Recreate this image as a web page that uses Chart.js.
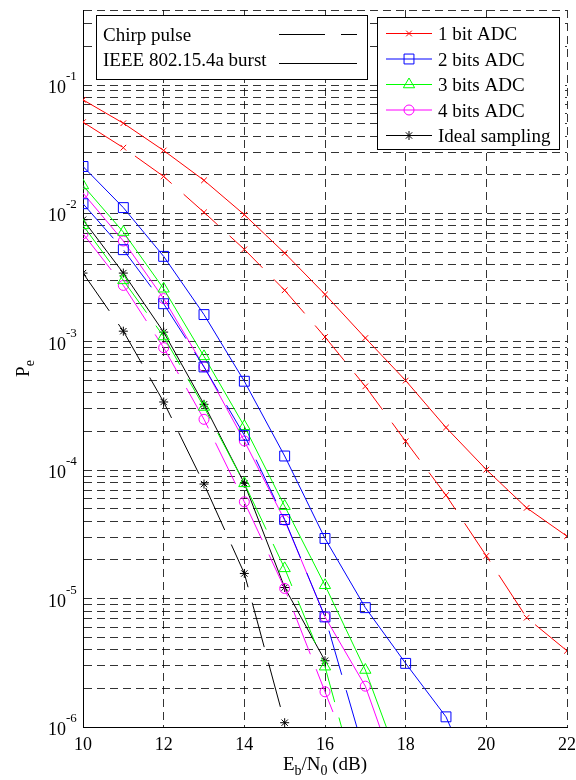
<!DOCTYPE html>
<html>
<head>
<meta charset="utf-8">
<script src="https://cdn.jsdelivr.net/npm/chart.js@4.4.1/dist/chart.umd.min.js"></script>
<style>
    html, body { margin: 0; padding: 0; background: #fff; }
    #chart { display: block; }
</style>
</head>
<body>
<canvas id="chart" width="576" height="780"></canvas>
<script>
const ebn0 = [10, 11, 12, 13, 14, 15, 16, 17, 18, 19, 20, 21, 22];
const xTicks = [10, 12, 14, 16, 18, 20, 22];
const yDecadeExps = [-6, -5, -4, -3, -2, -1];
const yMinorSteps = [1, 2, 3, 4, 5, 6, 7, 8, 9];
const yMin = 1e-6;
const yMax = 0.384;

// IEEE 802.15.4a burst = solid, chirp pulse = dashed
const bit1Burst  = [0.0767, 0.0504, 0.0309, 0.0181, 0.00977, 0.00491, 0.00234, 0.00107, 0.000499, 0.000215, 0.000101, 0.0000509, 0.0000306];
const bit1Chirp  = [0.0514, 0.0325, 0.0194, 0.0102, 0.00525, 0.00252, 0.00109, 0.00045, 0.000168, 0.0000639, 0.0000215, 0.0000071, 0.00000392];
const bit2Burst  = [0.0232, 0.0111, 0.00463, 0.00163, 0.000493, 0.000129, 0.0000294, 0.0000085, 0.00000313, 0.0000012, 2.3e-7];
const bit2Chirp  = [0.0119, 0.00522, 0.00198, 0.000637, 0.000187, 0.0000413, 0.0000072, 5.9e-7];
const bit3Burst  = [0.0165, 0.00716, 0.00259, 0.00077, 0.00022, 0.0000525, 0.0000127, 0.00000278, 3.9e-7];
const bit3Chirp  = [0.00807, 0.00301, 0.0011, 0.000311, 0.000079, 0.0000172, 0.00000295, 2.1e-7];
const bit4Burst  = [0.0144, 0.0061, 0.00217, 0.00064, 0.000169, 0.0000408, 0.0000072, 0.00000208, 2.7e-7];
const bit4Chirp  = [0.00695, 0.00275, 0.0009, 0.000249, 0.0000567, 0.000012, 0.00000188, 3e-7];
const idealBurst = [0.00893, 0.00343, 0.00119, 0.000326, 0.000079, 0.0000122, 0.00000328];
const idealChirp = [0.00343, 0.00121, 0.00034, 0.000078, 0.0000157, 0.00000108];

const SERIES = [
    { label: '1 bit ADC',      color: '#ff0000', style: 'crossRot', radius: 4,   burst: bit1Burst,  chirp: bit1Chirp },
    { label: '2 bits ADC',     color: '#0000ff', style: 'rect',     radius: 7,   burst: bit2Burst,  chirp: bit2Chirp },
    { label: '3 bits ADC',     color: '#00ff00', style: 'triangle', radius: 6.5, burst: bit3Burst,  chirp: bit3Chirp },
    { label: '4 bits ADC',     color: '#ff00ff', style: 'circle',   radius: 5,   burst: bit4Burst,  chirp: bit4Chirp },
    { label: 'Ideal sampling', color: '#000000', style: 'star',     radius: 4.5, burst: idealBurst, chirp: idealChirp },
];

const CHIRP_DASH = [46, 16];
const SERIF = '"Liberation Serif", "Times New Roman", serif';

function toPoints(values) {
    return values.map((y, i) => ({ x: ebn0[i], y }));
}

function makeDataset(s, values, dashed) {
    return {
        label: s.label + (dashed ? ' (chirp)' : ''),
        data: toPoints(values),
        borderColor: s.color,
        backgroundColor: 'rgba(0,0,0,0)',
        borderWidth: 1,
        borderDash: dashed ? CHIRP_DASH : [],
        pointStyle: s.style,
        pointRadius: s.radius,
        pointBorderWidth: 1,
        pointBorderColor: s.color,
        pointBackgroundColor: 'rgba(0,0,0,0)',
        tension: 0,
        fill: false,
    };
}

const datasets = [];
SERIES.forEach(s => {
    datasets.push(makeDataset(s, s.burst, false));
    datasets.push(makeDataset(s, s.chirp, true));
});

function drawSubText(ctx, parts, x, y, align) {
    // parts: [text, size, dy]
    let total = 0;
    parts.forEach(p => {
        ctx.font = `${p[1]}px ${SERIF}`;
        total += ctx.measureText(p[0]).width;
    });
    let cx = align === 'center' ? x - total / 2 : x;
    parts.forEach(p => {
        ctx.font = `${p[1]}px ${SERIF}`;
        ctx.fillText(p[0], cx, y + p[2]);
        cx += ctx.measureText(p[0]).width;
    });
}

const decorations = {
    id: 'decorations',
    afterDraw(chart) {
        const { ctx, chartArea, scales } = chart;
        ctx.save();
        ctx.fillStyle = '#000';
        ctx.textBaseline = 'alphabetic';

        // y tick labels 10^n
        yDecadeExps.forEach(e => {
            const y = scales.y.getPixelForValue(Math.pow(10, e));
            const xr = chartArea.left - 17;
            ctx.font = `18px ${SERIF}`;
            ctx.textAlign = 'right';
            ctx.fillText('10', xr, y + 8);
            ctx.font = `13px ${SERIF}`;
            ctx.textAlign = 'left';
            ctx.fillText(String(e), xr, y - 5);
        });

        // x tick labels
        ctx.font = `18px ${SERIF}`;
        ctx.textAlign = 'center';
        xTicks.forEach(v => {
            ctx.fillText(String(v), scales.x.getPixelForValue(v), chartArea.bottom + 23);
        });

        // axis titles
        ctx.textAlign = 'left';
        const xc = (chartArea.left + chartArea.right) / 2;
        drawSubText(ctx, [['E', 19, 0], ['b', 14, 5], ['/N', 19, 0], ['0', 14, 5], [' (dB)', 19, 0]], xc, chartArea.bottom + 43, 'center');

        ctx.save();
        ctx.translate(29, (chartArea.top + chartArea.bottom) / 2);
        ctx.rotate(-Math.PI / 2);
        drawSubText(ctx, [['P', 19, 0], ['e', 14, 5]], 0, 0, 'center');
        ctx.restore();

        // left legend: pulse shapes
        ctx.lineWidth = 1;
        ctx.fillStyle = '#fff';
        ctx.fillRect(96.5, 15.5, 271, 64);
        ctx.strokeStyle = '#000';
        ctx.strokeRect(96.5, 15.5, 271, 64);
        ctx.fillStyle = '#000';
        ctx.font = `19px ${SERIF}`;
        ctx.fillText('Chirp pulse', 103, 41);
        ctx.fillText('IEEE 802.15.4a burst', 103, 66);
        ctx.beginPath();
        ctx.setLineDash(CHIRP_DASH);
        ctx.moveTo(279, 34.5);
        ctx.lineTo(357, 34.5);
        ctx.stroke();
        ctx.setLineDash([]);
        ctx.beginPath();
        ctx.moveTo(279, 63.5);
        ctx.lineTo(357, 63.5);
        ctx.stroke();

        // right legend: ADC resolution
        ctx.fillStyle = '#fff';
        ctx.fillRect(377.5, 17.5, 182, 132);
        ctx.strokeRect(377.5, 17.5, 182, 132);
        SERIES.forEach((s, i) => {
            const y = 33 + i * 25.5;
            ctx.strokeStyle = s.color;
            ctx.lineWidth = 1;
            ctx.beginPath();
            ctx.moveTo(386, y + 0.5);
            ctx.lineTo(432, y + 0.5);
            ctx.stroke();
            ctx.fillStyle = 'rgba(0,0,0,0)';
            Chart.helpers.drawPoint(ctx, { pointStyle: s.style, radius: s.radius, borderWidth: 1, rotation: 0 }, 409, y + 0.5);
            ctx.fillStyle = '#000';
            ctx.font = `19px ${SERIF}`;
            ctx.fillText(s.label, 438, y + 7);
        });
        ctx.restore();
    },
};

new Chart(document.getElementById('chart'), {
    type: 'line',
    data: { datasets },
    options: {
        responsive: false,
        animation: false,
        devicePixelRatio: 1,
        layout: { padding: { left: 83, right: 9, top: 10, bottom: 53 } },
        plugins: {
            legend: { display: false },
            tooltip: { enabled: false },
        },
        scales: {
            x: {
                type: 'linear',
                min: 10,
                max: 22,
                afterBuildTicks: scale => { scale.ticks = xTicks.map(v => ({ value: v })); },
                ticks: { display: false },
                grid: { color: 'rgba(0,0,0,0.8)', lineWidth: 1, drawTicks: false },
                border: { display: true, color: '#000', width: 1, dash: [8, 5] },
            },
            y: {
                type: 'logarithmic',
                min: yMin,
                max: yMax,
                afterBuildTicks: scale => {
                    const ticks = [];
                    yDecadeExps.forEach(e => yMinorSteps.forEach(m => {
                        const v = m * Math.pow(10, e);
                        if (v < yMax) ticks.push({ value: v });
                    }));
                    ticks.push({ value: yMax });
                    scale.ticks = ticks;
                },
                ticks: { display: false },
                grid: { color: 'rgba(0,0,0,0.8)', lineWidth: 1, drawTicks: false },
                border: { display: true, color: '#000', width: 1, dash: [8, 5] },
            },
        },
    },
    plugins: [decorations],
});
</script>
</body>
</html>
